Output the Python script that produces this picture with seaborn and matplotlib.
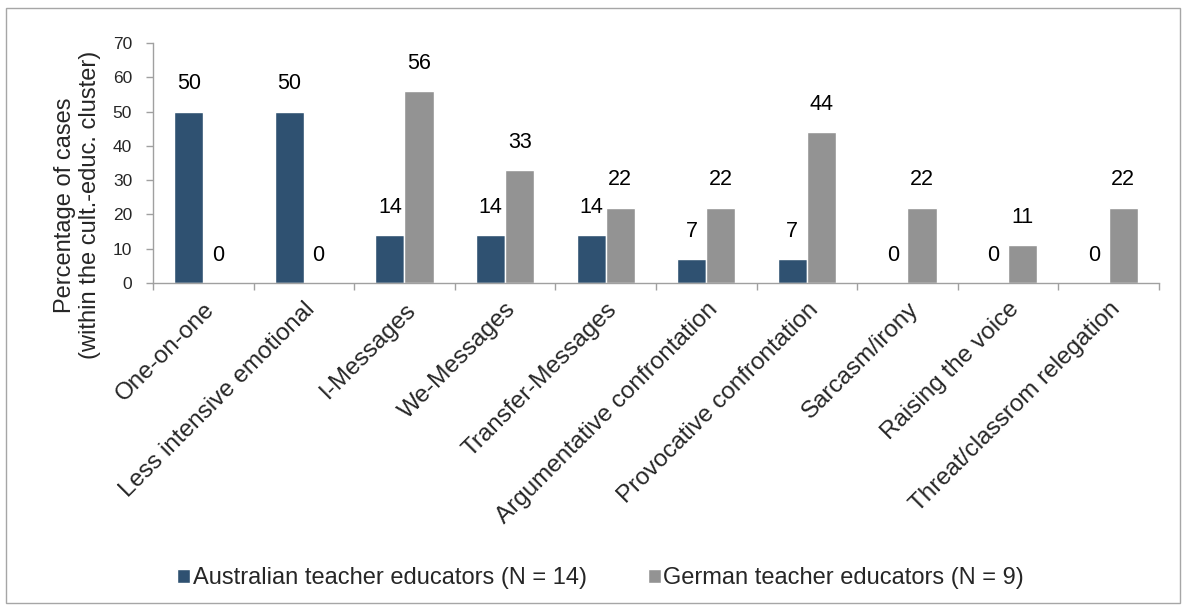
import matplotlib
matplotlib.use('Agg')
import matplotlib.pyplot as plt
import seaborn as sns
import pandas as pd
from matplotlib.patches import Rectangle

categories = ["One-on-one", "Less intensive emotional", "I-Messages", "We-Messages",
              "Transfer-Messages", "Argumentative confrontation", "Provocative confrontation",
              "Sarcasm/irony", "Raising the voice", "Threat/classrom relegation"]
australian = [50, 50, 14, 14, 14, 7, 7, 0, 0, 0]
german = [0, 0, 56, 33, 22, 22, 44, 22, 11, 22]
series_names = ["Australian teacher educators (N = 14)", "German teacher educators (N = 9)"]
y_ticks = [0, 10, 20, 30, 40, 50, 60, 70]

df = pd.DataFrame({
    "category": categories * 2,
    "value": australian + german,
    "group": [series_names[0]] * len(categories) + [series_names[1]] * len(categories),
})

sns.set_theme(style="white")
plt.rcParams['font.family'] = ['Liberation Sans', 'DejaVu Sans']

fig = plt.figure(figsize=(11.87, 6.10), dpi=100)
ax = fig.add_axes([0.1289, 0.536, 0.8475, 0.3934])

palette = {series_names[0]: "#2f5171", series_names[1]: "#939393"}
sns.barplot(data=df, x="category", y="value", hue="group", palette=palette,
            width=0.58, gap=0, ax=ax, saturation=1)

# value labels above bars
for cont in ax.containers:
    for bar in cont:
        h = bar.get_height()
        ax.annotate(f"{int(h)}", (bar.get_x() + bar.get_width() / 2, h),
                    xytext=(0, 20), textcoords="offset points",
                    ha="center", va="center", fontsize=15.5, color="black")

ax.set_ylim(0, 70)
ax.set_yticks(y_ticks)
ax.set_xlim(-0.5, len(categories) - 0.5)
ax.set_xlabel("")
ax.set_ylabel("Percentage of cases\n(within the cult.-educ. cluster)", fontsize=17)
ax.yaxis.label.set_va("center")
ax.yaxis.set_label_coords(-0.0752, 0.325)
ax.tick_params(axis="y", labelsize=12.5, left=True, length=5, color="#a0a0a0", width=1, pad=10)
ax.set_xticks(range(len(categories)))
ax.set_xticklabels(categories, rotation=45, ha="right", va="top", rotation_mode="anchor",
                   fontsize=17.5)
ax.tick_params(axis="x", bottom=False, length=0, pad=11)
ax.set_xticks([i - 0.5 for i in range(len(categories) + 1)], minor=True)
ax.tick_params(axis="x", which="minor", bottom=True, length=5, color="#a0a0a0", width=1)

for side in ["top", "right"]:
    ax.spines[side].set_visible(False)
for side in ["left", "bottom"]:
    ax.spines[side].set_color("#a0a0a0")
    ax.spines[side].set_linewidth(1)

ax.legend(loc="center", bbox_to_anchor=(0.506, 0.052), bbox_transform=fig.transFigure,
          ncol=2, frameon=False, fontsize=17, handlelength=0.55, handleheight=0.55,
          handletextpad=0.1, columnspacing=2.6)

fig.patches.append(Rectangle((0.005, 0.012), 0.989, 0.975, transform=fig.transFigure,
                             fill=False, edgecolor="#a6a6a6", linewidth=1))

plt.savefig("out.png", dpi=100)
plt.close(fig)
